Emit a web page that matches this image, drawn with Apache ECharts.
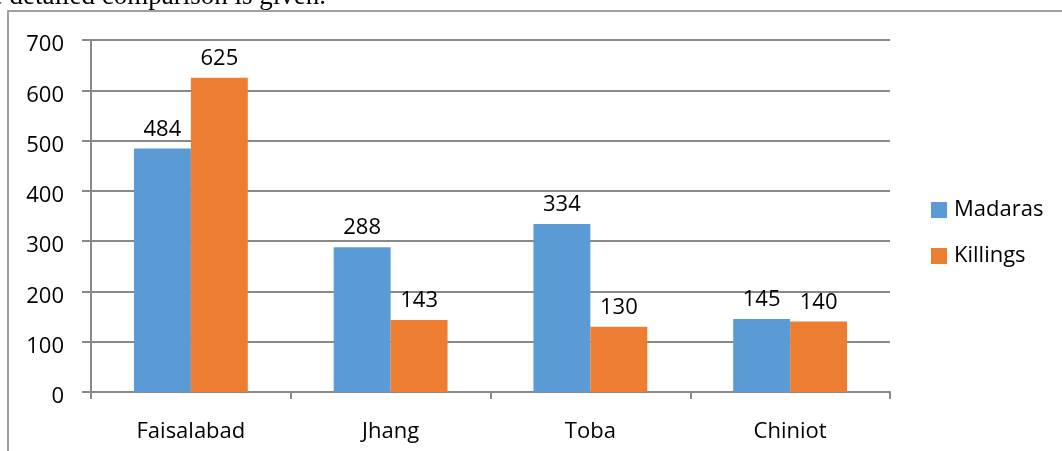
<!DOCTYPE html>
<html>
<head>
<meta charset="utf-8">
<script src="https://cdn.jsdelivr.net/npm/echarts@6/dist/echarts.min.js"></script>
<style>
html,body{margin:0;padding:0;background:#fff;}
#main{width:1062px;height:451px;}
</style>
</head>
<body>
<div id="main"></div>
<script>
var districts = ['Faisalabad', 'Jhang', 'Toba', 'Chiniot'];
var madaras = [484, 288, 334, 145];
var killings = [625, 143, 130, 140];
var seriesNames = ['Madaras', 'Killings'];
var yTicks = [0, 100, 200, 300, 400, 500, 600, 700];

var chart = echarts.init(document.getElementById('main'));
var font = '"Open Sans", sans-serif';
var grey = '#898989';

var option = {
	animation: false,
	backgroundColor: '#fff',
	textStyle: { fontFamily: font },
	grid: { left: 91, right: 172, top: 40, bottom: 59, containLabel: false },
	legend: {
		orient: 'vertical',
		left: 931,
		top: 199,
		padding: 0,
		itemWidth: 16,
		itemHeight: 16,
		itemGap: 24,
		icon: 'rect',
		textStyle: { fontFamily: font, fontSize: 22, color: '#000', padding: [2, 0, 0, 2] },
		data: seriesNames
	},
	xAxis: {
		type: 'category',
		data: districts,
		axisLine: { lineStyle: { color: grey, width: 2 } },
		axisTick: { show: true, length: 7, lineStyle: { color: grey, width: 2 } },
		axisLabel: { fontFamily: font, fontSize: 22, color: '#000', margin: 29 }
	},
	yAxis: {
		type: 'value',
		min: yTicks[0],
		max: yTicks[yTicks.length - 1],
		interval: 100,
		axisLine: { show: true, lineStyle: { color: grey, width: 2 } },
		axisTick: { show: true, length: 9, lineStyle: { color: grey, width: 2 } },
		splitLine: { lineStyle: { color: grey, width: 2 } },
		axisLabel: { fontFamily: font, fontSize: 22, color: '#000', margin: 27, verticalAlign: 'top', lineHeight: 10 }
	},
	series: [
		{
			name: seriesNames[0],
			type: 'bar',
			data: madaras,
			barGap: '0%',
			barCategoryGap: '43%',
			itemStyle: { color: '#5B9BD5' },
			label: { show: true, position: 'top', distance: 8, fontFamily: font, fontSize: 22, color: '#000' }
		},
		{
			name: seriesNames[1],
			type: 'bar',
			data: killings,
			barGap: '0%',
			barCategoryGap: '43%',
			itemStyle: { color: '#ED7D31' },
			label: { show: true, position: 'top', distance: 8, fontFamily: font, fontSize: 22, color: '#000' }
		}
	],
	graphic: [
		{
			type: 'text',
			x: 326,
			y: 10,
			style: {
				text: 'e detailed comparison is given.',
				font: '27px "Liberation Serif", "Times New Roman", serif',
				fill: '#000',
				textAlign: 'right',
				textVerticalAlign: 'bottom'
			}
		},
		{
			type: 'polyline',
			shape: { points: [[8, 452], [8, 11], [1063, 11]] },
			style: { stroke: '#a0a0a0', lineWidth: 2, fill: null }
		}
	]
};
chart.setOption(option);
</script>
</body>
</html>
